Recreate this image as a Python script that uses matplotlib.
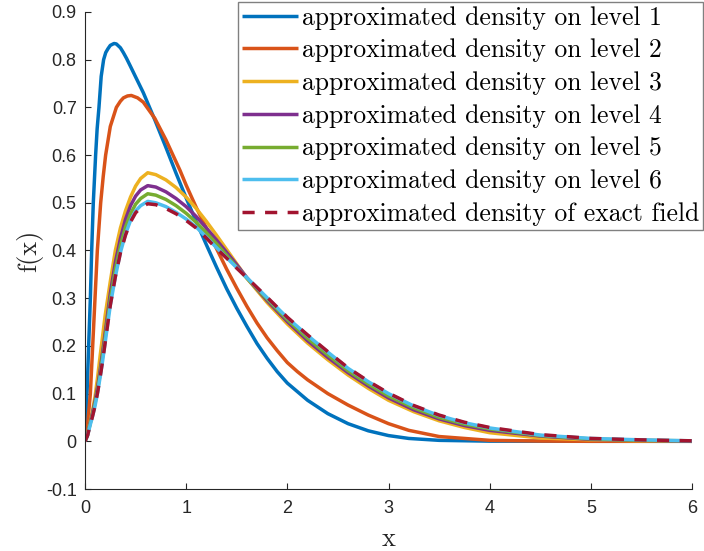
import matplotlib
matplotlib.use("Agg")
import matplotlib.pyplot as plt

plt.rcParams["axes.unicode_minus"] = False

# Level 1 density
x_l1 = [0, 0.01, 0.02, 0.036, 0.053, 0.066, 0.082, 0.105, 0.12, 0.138, 0.16, 0.184, 0.205,
        0.227, 0.25, 0.287, 0.31, 0.35, 0.379, 0.41, 0.445, 0.5, 0.576, 0.69, 0.8, 0.9, 1.0,
        1.1, 1.2, 1.3, 1.4, 1.5, 1.6, 1.7, 1.8, 1.9, 2.0, 2.2, 2.4, 2.6, 2.8, 3.0, 3.2, 3.5,
        4.0, 5.0, 6.0]
f_l1 = [0, 0.045, 0.1, 0.2, 0.3, 0.4, 0.5, 0.6, 0.655, 0.7, 0.765, 0.8, 0.815,
        0.823, 0.83, 0.834, 0.833, 0.825, 0.815, 0.803, 0.788, 0.764, 0.731, 0.674, 0.616, 0.562, 0.51,
        0.46, 0.412, 0.365, 0.32, 0.279, 0.241, 0.205, 0.174, 0.146, 0.122, 0.086, 0.058, 0.037, 0.022, 0.012, 0.006, 0.002,
        0.0003, 0, 0]

# Level 2 density
x_l2 = [0, 0.015, 0.03, 0.053, 0.076, 0.099, 0.122, 0.155, 0.18, 0.204, 0.25, 0.31, 0.35,
        0.38, 0.42, 0.458, 0.52, 0.576, 0.69, 0.8, 0.939, 1.0, 1.1, 1.2, 1.3, 1.4, 1.5, 1.6,
        1.7, 1.8, 1.9, 2.0, 2.1, 2.2, 2.4, 2.6, 2.8, 3.0, 3.2, 3.5, 4.0, 4.5, 5.0, 6.0]
f_l2 = [0, 0.015, 0.045, 0.1, 0.2, 0.3, 0.4, 0.5, 0.555, 0.6, 0.66, 0.7, 0.713,
        0.72, 0.724, 0.725, 0.72, 0.711, 0.677, 0.632, 0.568, 0.537, 0.49, 0.447, 0.404, 0.361, 0.321, 0.283,
        0.248, 0.217, 0.19, 0.165, 0.146, 0.129, 0.1, 0.076, 0.055, 0.037, 0.023, 0.01, 0.002, 0.0005, 0, 0]

# Shared abscissae for levels 3-6 and the exact field
x_grid = [0, 0.025, 0.05, 0.075, 0.1, 0.125, 0.15, 0.175, 0.2, 0.25, 0.3, 0.35, 0.4, 0.45,
          0.5, 0.55, 0.62, 0.7, 0.8, 0.9, 1.0, 1.1, 1.2, 1.3, 1.4, 1.5, 1.6, 1.8, 2.0, 2.2,
          2.4, 2.6, 2.8, 3.0, 3.25, 3.5, 3.75, 4.0, 4.5, 5.0, 5.5, 6.0]

f_l3 = [0, 0.015, 0.04, 0.065, 0.095, 0.135, 0.18, 0.222, 0.265, 0.335, 0.40, 0.447, 0.483, 0.512,
        0.535, 0.551, 0.563, 0.559, 0.548, 0.532, 0.512, 0.488, 0.461, 0.432, 0.402, 0.372, 0.342, 0.291,
        0.246, 0.206, 0.171, 0.139, 0.111, 0.086, 0.062, 0.043, 0.029, 0.018, 0.007, 0.003, 0.001, 0]

f_l4 = [0, 0.014, 0.038, 0.06, 0.085, 0.115, 0.15, 0.188, 0.228, 0.31, 0.375, 0.425, 0.465, 0.494,
        0.514, 0.527, 0.536, 0.533, 0.523, 0.509, 0.492, 0.471, 0.447, 0.422, 0.396, 0.37, 0.343, 0.295,
        0.251, 0.211, 0.176, 0.144, 0.116, 0.091, 0.066, 0.047, 0.033, 0.023, 0.011, 0.004, 0.002, 0]

f_l5 = [0, 0.013, 0.036, 0.057, 0.08, 0.109, 0.142, 0.179, 0.218, 0.297, 0.36, 0.41, 0.449, 0.477,
        0.497, 0.509, 0.519, 0.516, 0.507, 0.494, 0.478, 0.459, 0.437, 0.414, 0.39, 0.365, 0.342, 0.298,
        0.255, 0.216, 0.181, 0.148, 0.12, 0.095, 0.07, 0.05, 0.036, 0.026, 0.012, 0.005, 0.002, 0.001]

f_l6 = [0, 0.012, 0.033, 0.053, 0.075, 0.103, 0.135, 0.17, 0.208, 0.285, 0.345, 0.396, 0.434, 0.463,
        0.483, 0.494, 0.503, 0.500, 0.492, 0.480, 0.466, 0.449, 0.428, 0.406, 0.385, 0.364, 0.343, 0.301,
        0.259, 0.222, 0.187, 0.153, 0.125, 0.100, 0.074, 0.054, 0.039, 0.028, 0.013, 0.006, 0.003, 0.001]

f_exact = [0, 0.012, 0.033, 0.053, 0.075, 0.103, 0.135, 0.17, 0.208, 0.285, 0.345, 0.395, 0.432, 0.46,
           0.479, 0.49, 0.498, 0.496, 0.488, 0.477, 0.463, 0.447, 0.426, 0.404, 0.384, 0.363, 0.343, 0.302,
           0.260, 0.223, 0.188, 0.154, 0.126, 0.101, 0.075, 0.055, 0.040, 0.029, 0.014, 0.006, 0.003, 0.001]

labels = ["approximated density on level 1",
          "approximated density on level 2",
          "approximated density on level 3",
          "approximated density on level 4",
          "approximated density on level 5",
          "approximated density on level 6",
          "approximated density of exact field"]
colors = ["#0072BD", "#D95319", "#EDB120", "#7E2F8E", "#77AC30", "#4DBEEE", "#A2142F"]

x_ticks = [0, 1, 2, 3, 4, 5, 6]
y_ticks = [-0.1, 0, 0.1, 0.2, 0.3, 0.4, 0.5, 0.6, 0.7, 0.8, 0.9]

fig = plt.figure(figsize=(7.04, 5.51), dpi=100)
ax = fig.add_axes([85 / 704, 1 - 489 / 551, (692 - 85) / 704, (489 - 12) / 551])

series = [(x_l1, f_l1), (x_l2, f_l2), (x_grid, f_l3), (x_grid, f_l4),
          (x_grid, f_l5), (x_grid, f_l6)]
for (xs, ys), lab, col in zip(series, labels[:6], colors[:6]):
    ax.plot(xs, ys, color=col, lw=2.5, label=lab, solid_capstyle="butt",
            solid_joinstyle="round")
ax.plot(x_grid, f_exact, color=colors[6], lw=2.5, linestyle=(0, (3.5, 3.0)),
        label=labels[6], dash_capstyle="butt")

ax.set_xlim(0, 6)
ax.set_ylim(-0.1, 0.9)
ax.set_xticks(x_ticks)
ax.set_yticks(y_ticks)
ax.set_xticklabels([f"{t:g}" for t in x_ticks])
ax.set_yticklabels([f"{t:g}" for t in y_ticks])

axis_col = "#262626"
for side in ("top", "right"):
    ax.spines[side].set_visible(False)
for side in ("left", "bottom"):
    ax.spines[side].set_color(axis_col)
    ax.spines[side].set_linewidth(0.8)
ax.tick_params(direction="in", length=4, width=0.8, color=axis_col,
               labelcolor=axis_col, labelsize=13)
ax.tick_params(axis="x", pad=8)
ax.tick_params(axis="y", pad=6)
for lbl in ax.get_xticklabels() + ax.get_yticklabels():
    lbl.set_fontfamily("Liberation Sans")

ax.set_xlabel("x", fontfamily="cmr10", fontsize=19, color=axis_col, labelpad=7)
ax.set_ylabel("f(x)", fontfamily="cmr10", fontsize=19, color=axis_col, labelpad=2)

leg = ax.legend(loc="upper right", bbox_to_anchor=(703 / 704, 1 - 2 / 551),
                bbox_transform=fig.transFigure, prop={"family": "cmr10", "size": 18.5},
                frameon=True, fancybox=False, framealpha=1, borderaxespad=0,
                handlelength=2.2, handletextpad=0.15, labelspacing=0.35,
                borderpad=0.15)
leg.get_frame().set_edgecolor("#808080")
leg.get_frame().set_linewidth(1.0)

fig.savefig("out.png", dpi=100)
